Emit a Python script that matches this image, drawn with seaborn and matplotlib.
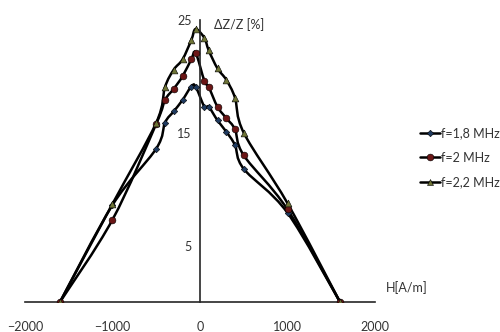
import matplotlib
matplotlib.use('Agg')

import matplotlib.pyplot as plt
from matplotlib.path import Path
from matplotlib.patches import PathPatch
from matplotlib.lines import Line2D
import seaborn as sns
import pandas as pd
import numpy as np

# magnetic field H [A/m]
h = [-1600, -1000, -500, -400, -300, -200, -100, -50,
     50, 100, 200, 300, 400, 500, 1000, 1600]

# dZ/Z [%] per frequency
dz_18 = [0, 8.6, 13.6, 15.9, 16.9, 17.9, 19.1, 19.1,
         17.3, 17.3, 16.1, 15.1, 13.9, 11.8, 7.9, 0]
dz_20 = [0, 7.3, 15.8, 17.9, 18.9, 20.0, 21.5, 22.1,
         19.6, 19.05, 17.3, 16.3, 15.3, 13.0, 8.2, 0]
dz_22 = [0, 8.7, 15.9, 19.05, 20.6, 21.5, 23.2, 24.2,
         23.4, 22.3, 20.7, 19.7, 18.1, 15.0, 8.75, 0]

labels = ['f=1,8 MHz', 'f=2 MHz', 'f=2,2 MHz']
colors = ['#1f3a5f', '#6b1616', '#6e7436']
markers = ['D', 'o', '^']
msizes = [11, 24, 24]

sns.set_style('white')
plt.rcParams['font.family'] = ['Lato', 'DejaVu Sans']

df = pd.DataFrame({
    'H': h * 3,
    'dZ': dz_18 + dz_20 + dz_22,
    'f': [labels[0]] * len(h) + [labels[1]] * len(h) + [labels[2]] * len(h),
})

fig = plt.figure(figsize=(5.0, 3.32), dpi=100)
ax = fig.add_axes([0.05, 0.0904, 0.70, 0.8494])


def smooth_path(xs, ys):
    # excel-like smoothed line (catmull-rom as cubic bezier)
    p = np.column_stack([xs, ys]).astype(float)
    n = len(p)
    verts = [p[0]]
    codes = [Path.MOVETO]
    for i in range(n - 1):
        p0 = p[i - 1] if i > 0 else p[i]
        p3 = p[i + 2] if i + 2 < n else p[i + 1]
        c1 = p[i] + (p[i + 1] - p0) / 6.0
        c2 = p[i + 1] - (p3 - p[i]) / 6.0
        verts += [c1, c2, p[i + 1]]
        codes += [Path.CURVE4] * 3
    return Path(verts, codes)


for ys in [dz_18, dz_20, dz_22]:
    ax.add_patch(PathPatch(smooth_path(h, ys), facecolor='none',
                           edgecolor='black', lw=1.8, zorder=2))

for lab, col, mk, ms in zip(labels, colors, markers, msizes):
    sub = df[df.f == lab]
    sns.scatterplot(x=sub.H, y=sub.dZ, ax=ax, color=col, marker=mk, s=ms,
                    edgecolor='black', linewidth=0.4, zorder=3, legend=False)

ax.set_xlim(-2000, 2000)
ax.set_ylim(0, 25)
ax.set_xlabel('')
ax.set_ylabel('')

for s in ['top', 'right']:
    ax.spines[s].set_visible(False)
ax.spines['left'].set_position(('data', 0))
ax.spines['left'].set_linewidth(1.2)
ax.spines['bottom'].set_linewidth(1.2)

ax.set_xticks([-2000, -1000, 0, 1000, 2000])
ax.set_yticks([5, 15, 25])
ax.set_yticks([10, 20], minor=True)
ax.tick_params(axis='x', direction='out', length=5, width=1.2, pad=9,
               labelsize=9, colors='black')
ax.tick_params(axis='y', which='both', direction='out', length=4, width=1.2,
               pad=2, labelsize=9, colors='black')
for t in ax.get_xticklabels() + ax.get_yticklabels():
    t.set_color('#333333')

ax.text(0.54, 0.985, 'ΔZ/Z [%]', transform=ax.transAxes, fontsize=9,
        color='#333333', va='center', ha='left')
ax.text(1.032, 0.05, 'H[A/m]', transform=ax.transAxes, fontsize=9,
        color='#333333', va='center', ha='left')

handles = [Line2D([0], [0], color='black', lw=1.8, marker=mk, markersize=ms ** 0.5,
                  markerfacecolor=col, markeredgecolor='black',
                  markeredgewidth=0.4)
           for col, mk, ms in zip(colors, markers, msizes)]
leg = fig.legend(handles, labels, loc='center left', bbox_to_anchor=(0.83, 0.525),
                 frameon=False, fontsize=9, handlelength=1.6, handletextpad=0.1,
                 labelspacing=1.0, borderaxespad=0)
for t in leg.get_texts():
    t.set_color('#333333')

fig.savefig('out.png', dpi=100)
